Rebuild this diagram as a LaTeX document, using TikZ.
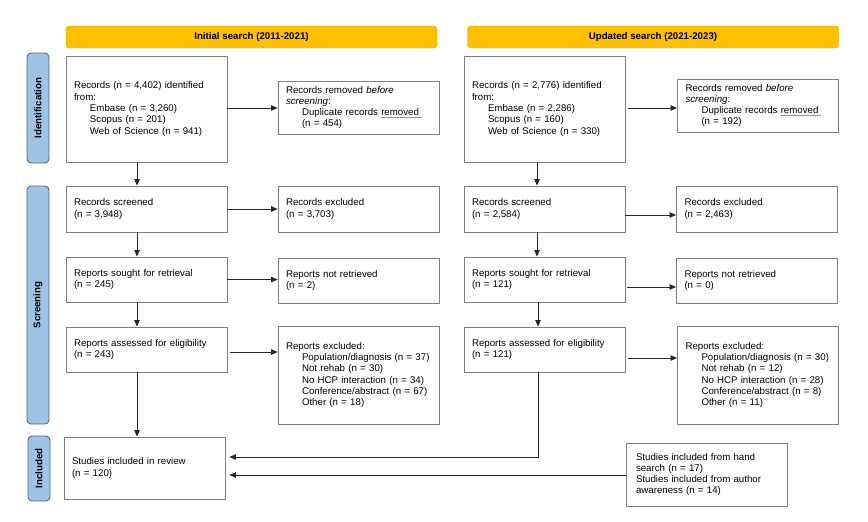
\documentclass[tikz,border=0pt]{standalone}
\usepackage{fontspec}
\setmainfont{Liberation Sans}
\usetikzlibrary{arrows.meta}
\definecolor{hdr}{HTML}{FFC000}
\definecolor{hdrb}{HTML}{E0A800}
\definecolor{side}{HTML}{9DC3E6}
\definecolor{sideb}{HTML}{56687C}
\definecolor{boxb}{HTML}{7F7F7F}
\definecolor{lnc}{HTML}{262626}
\definecolor{ulblue}{HTML}{6A9BF2}
\newcommand\spellul[1]{\setbox0\hbox{#1}\rlap{\color{ulblue}\rule[-2.2pt]{\dimexpr\wd0+3pt\relax}{0.9pt}}\box0}
\newcommand\ind{\hspace*{16pt}}
\begin{document}
\begin{tikzpicture}[x=1pt,y=-1pt,
  font=\fontsize{9.7}{11.3}\selectfont,
  box/.style={draw=boxb, line width=0.9pt, inner xsep=8pt, inner ysep=2pt, align=left, text width=145pt, anchor=center},
  hdrbox/.style={draw=hdrb, fill=hdr, rounded corners=3pt, minimum width=371pt, minimum height=22pt, inner sep=0pt, font=\fontsize{9.7}{11.3}\selectfont\bfseries},
  sidebox/.style={draw=sideb, fill=side, rounded corners=4pt, rotate=90, minimum height=22pt, inner sep=0pt, line width=0.9pt, font=\fontsize{9.7}{11.3}\selectfont\bfseries},
  arr/.style={draw=lnc, line width=0.8pt, -{Triangle[length=6.5pt,width=5.5pt]}},
  ln/.style={draw=lnc, line width=0.8pt}]
\useasboundingbox (0,0) rectangle (868,522);

% headers
\node[hdrbox] (hL) at (251.5,37) {Initial search (2011-2021)};
\node[hdrbox] (hR) at (653,37) {Updated search (2021-2023)};

% side labels
\node[sidebox, minimum width=110pt] (sI) at (38,108) {Identification};
\node[sidebox, minimum width=238pt] (sS) at (38,305) {Screening};
\node[sidebox, minimum width=65pt] (sN) at (39,468.5) {Included};

% left column
\node[box, minimum height=106pt] (idL) at (146.5,109) {Records (n = 4,402) identified\\from:\\\ind Embase (n = 3,260)\\\ind Scopus (n = 201)\\\ind Web of Science (n = 941)};
\node[box, minimum height=53pt] (remL) at (358.5,107.5) {Records removed \textit{before}\\\textit{screening}:\\\ind Duplicate records \spellul{removed}\\\ind (n = 454)};
\node[box, minimum height=46pt] (scrL) at (146.5,209) {Records screened\\(n = 3,948)};
\node[box, minimum height=46pt] (excL) at (358.5,209) {Records excluded\\(n = 3,703)};
\node[box, minimum height=45pt] (souL) at (146.5,279.5) {Reports sought for retrieval\\(n = 245)};
\node[box, minimum height=45pt] (nrL) at (358.5,280.5) {Reports not retrieved\\(n = 2)};
\node[box, minimum height=45pt] (assL) at (146.5,349.5) {Reports assessed for eligibility\\(n = 243)};
\node[box, minimum height=98pt] (rexL) at (358.5,375) {Reports excluded:\\\ind Population/diagnosis (n = 37)\\\ind Not rehab (n = 30)\\\ind No HCP interaction (n = 34)\\\ind Conference/abstract (n = 67)\\\ind Other (n = 18)};
\node[box, minimum height=62pt] (inc) at (144.5,468) {Studies included in review\\(n = 120)};

% right column
\node[box, minimum height=106pt] (idR) at (544.5,109) {Records (n = 2,776) identified\\from:\\\ind Embase (n = 2,286)\\\ind Scopus (n = 160)\\\ind Web of Science (n = 330)};
\node[box, minimum height=53pt] (remR) at (758,105.5) {Records removed \textit{before}\\\textit{screening}:\\\ind Duplicate records \spellul{removed}\\\ind (n = 192)};
\node[box, minimum height=46pt] (scrR) at (544.5,209) {Records screened\\(n = 2,584)};
\node[box, minimum height=46pt] (excR) at (757,209) {Records excluded\\(n = 2,463)};
\node[box, minimum height=45pt] (souR) at (544.5,279.5) {Reports sought for retrieval\\(n = 121)};
\node[box, minimum height=45pt] (nrR) at (757,280.5) {Reports not retrieved\\(n = 0)};
\node[box, minimum height=45pt] (assR) at (544.5,349.5) {Reports assessed for eligibility\\(n = 121)};
\node[box, minimum height=98pt] (rexR) at (758,375) {Reports excluded:\\\ind Population/diagnosis (n = 30)\\\ind Not rehab (n = 12)\\\ind No HCP interaction (n = 28)\\\ind Conference/abstract (n = 8)\\\ind Other (n = 11)};
\node[box, minimum height=63pt, inner xsep=10pt, text width=141pt] (hand) at (706.5,474.5) {Studies included from hand\\search (n = 17)\\Studies included from author\\awareness (n = 14)};

% left connectors
\draw[arr] ([yshift=1pt]idL.east) -- ([yshift=1pt]idL.east -| remL.west);
\draw[arr] ([xshift=-9.5pt]idL.south) -- ([xshift=-9.5pt]idL.south |- scrL.north);
\draw[arr] (scrL.east) -- (scrL.east -| excL.west);
\draw[arr] ([xshift=-9.5pt]scrL.south) -- ([xshift=-9.5pt]scrL.south |- souL.north);
\draw[arr] (souL.east) -- (souL.east -| nrL.west);
\draw[arr] ([xshift=-9.5pt]souL.south) -- ([xshift=-9.5pt]souL.south |- assL.north);
\draw[arr] ([xshift=3pt,yshift=-2.5pt]assL.east) -- ([yshift=-2.5pt]assL.east -| rexL.west);
\draw[arr] ([xshift=-9.5pt]assL.south) -- ([xshift=-9.5pt]assL.south |- inc.north);

% right connectors
\draw[arr] ([xshift=3pt,yshift=1pt]idR.east) -- ([yshift=1pt]idR.east -| remR.west);
\draw[arr] ([xshift=-7.5pt]idR.south) -- ([xshift=-7.5pt]idR.south |- scrR.north);
\draw[arr] ([yshift=-6pt]scrR.east) -- ([yshift=-6pt]scrR.east -| excR.west);
\draw[arr] ([xshift=-7.5pt]scrR.south) -- ([xshift=-7.5pt]scrR.south |- souR.north);
\draw[arr] ([xshift=2pt,yshift=-7.5pt]souR.east) -- ([yshift=-7.5pt]souR.east -| nrR.west);
\draw[arr] ([xshift=-6.5pt]souR.south) -- ([xshift=-6.5pt]souR.south |- assR.north);
\draw[arr] ([xshift=3pt,yshift=-8.5pt]assR.east) -- ([yshift=-8.5pt]assR.east -| rexR.west);
\coordinate (elb) at ([xshift=-6.5pt]assR.south |- 0,457);
\draw[arr, shorten >=4pt] ([xshift=-6.5pt]assR.south) -- (elb) -- (elb -| inc.east);
\draw[arr, shorten >=4pt] (hand.west |- 0,475) -- (inc.east |- 0,475);
\end{tikzpicture}
\end{document}
